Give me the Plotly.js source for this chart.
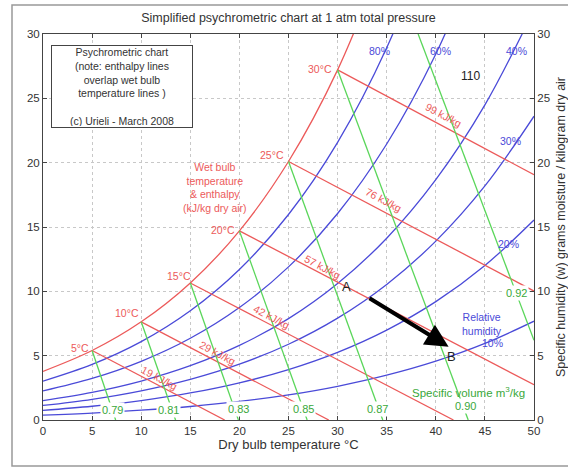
<!DOCTYPE html>
<html><head><meta charset="utf-8">
<script src="https://cdn.plot.ly/plotly-3.0.1.min.js"></script>
<style>html,body{margin:0;padding:0;background:#fff}#chart{width:568px;height:470px}</style>
</head><body><div id="chart"></div>
<script>
// Dry bulb temperatures (°C) at which curves were read
const dryBulb = [0,5,10,15,20,25,30,35,40,45,50];
// Specific humidity (g/kg) read for each relative-humidity curve
const rh100 = [3.78,5.40,7.63,10.65,14.70,20.09,27.21,36.58];
const rh80  = [3.02,4.32,6.09,8.49,11.70,15.97,21.58,28.93,38.5];
const rh60  = [2.26,3.23,4.56,6.35,8.74,11.90,16.05,21.45,28.44,37.47];
const rh40  = [1.51,2.15,3.03,4.22,5.80,7.88,10.61,14.13,18.68,24.49,31.88];
const rh30  = [1.13,1.61,2.27,3.16,4.34,5.89,7.92,10.54,13.90,18.19,23.61];
const rh20  = [0.75,1.07,1.51,2.10,2.89,3.92,5.26,6.99,9.20,12.01,15.54];
const rh10  = [0.38,0.54,0.76,1.05,1.44,1.95,2.62,3.48,4.57,5.95,7.68];

// Wet bulb / enthalpy lines: start (on saturation) and end points
const wetBulbLabels = ['5°C','10°C','15°C','20°C','25°C','30°C'];
const enthLabels = ['19 kJ/kg','29 kJ/kg','42 kJ/kg','57 kJ/kg','76 kJ/kg','99 kJ/kg'];
const enthStartT = [5,10,15,20,25,30];
const enthStartW = [5.40,7.63,10.65,14.70,20.09,27.21];
const enthEndT   = [18.5,29.1,41.8,50,50,50];
const enthEndW   = [0,0,0,2.74,10.02,19.06];

// Specific volume lines
const volLabels = ['0.79','0.81','0.83','0.85','0.87','0.90','0.92'];
const volStartT = [5,10,15,20,25,30,38.2];
const volStartW = [5.40,7.63,10.65,14.70,20.09,27.21,30];
const volEndT   = [7.4,13.5,19.9,26.9,34.6,43.3,50];
const volEndW   = [0,0,0,0,0,0,6.2];

// Process A -> B
const pointA = [33.1, 9.53];
const pointB = [41.3, 5.7];

const BLUE='#4a4ad8', RED='#ec5a5a', GREEN='#5ad65a';
const traces = [];
[rh10,rh20,rh30,rh40,rh60,rh80].forEach(arr=>{
  traces.push({x:dryBulb.slice(0,arr.length), y:arr, mode:'lines', line:{color:BLUE,width:1.3,shape:'spline'}, hoverinfo:'skip', showlegend:false});
});
traces.push({x:dryBulb.slice(0,rh100.length), y:rh100, mode:'lines', line:{color:RED,width:1.3,shape:'spline'}, hoverinfo:'skip', showlegend:false});
for(let i=0;i<enthStartT.length;i++){
  traces.push({x:[enthStartT[i],enthEndT[i]], y:[enthStartW[i],enthEndW[i]], mode:'lines', line:{color:RED,width:1.3}, hoverinfo:'skip', showlegend:false});
}
for(let i=0;i<volStartT.length;i++){
  traces.push({x:[volStartT[i],volEndT[i]], y:[volStartW[i],volEndW[i]], mode:'lines', line:{color:GREEN,width:1.3}, hoverinfo:'skip', showlegend:false});
}
traces.push({x:[0,50], y:[0,30], yaxis:'y2', mode:'markers', marker:{opacity:0}, hoverinfo:'skip', showlegend:false});

const F='Arial, Liberation Sans, sans-serif';
const ann = [];
function t(x,y,text,color,size,extra){ann.push(Object.assign({x:x,y:y,xref:'x',yref:'y',text:text,showarrow:false,font:{family:F,size:size,color:color}},extra||{}));}

// info box
t(8.05,25.95,'Psychrometric chart<br>(note: enthalpy lines<br>overlap wet bulb<br>temperature lines )<br> <br>(c) Urieli - March 2008','#333',10.5,{bordercolor:'#444',borderwidth:1,bgcolor:'#fff',width:138,height:79,align:'center'});
// wet bulb text
t(17.5,18.06,'Wet bulb<br>temperature<br>&amp; enthalpy<br>(kJ/kg dry air)',RED,10.5,{align:'center'});
// wet bulb temperature labels
const wbPos = [[3.8,5.6],[8.6,8.3],[13.8,11.2],[18.3,14.8],[23.3,20.6],[28.2,27.3]];
wbPos.forEach((p,i)=>t(p[0],p[1],wetBulbLabels[i],RED,10.5));
// enthalpy labels
const enPos = [[11.9,3.3],[17.8,5.2],[23.3,8.0],[28.5,11.9],[34.7,17.1],[40.8,23.7]];
enPos.forEach((p,i)=>t(p[0],p[1],enthLabels[i],RED,10.5,{textangle:28}));
// RH labels
t(34.3,28.7,'80%',BLUE,10.5); t(40.5,28.7,'60%',BLUE,10.5); t(48.2,28.7,'40%',BLUE,10.5);
t(47.6,21.7,'30%',BLUE,10.5); t(47.4,13.7,'20%',BLUE,10.5);
t(44.7,7.45,'Relative<br>humidity',BLUE,10.5,{align:'center'}); t(45.8,5.95,'10%',BLUE,10.5);
// volume labels
const volPos = [[7.1,0.8],[12.8,0.8],[19.9,0.85],[26.5,0.85],[34.1,0.85],[43.0,1.05],[48.2,9.84]];
volPos.forEach((p,i)=>t(p[0],p[1],volLabels[i],'#3aa83a',11,{bgcolor:'#fff'}));
t(43.3,2.2,'Specific volume m<sup>3</sup>/kg','#3aa83a',11.5);
t(43.5,26.7,'110','#222',12);
t(30.86,10.4,'A','#222',13); t(41.55,4.96,'B','#222',13);
// arrow
ann.push({x:pointB[0],y:pointB[1],ax:pointA[0],ay:pointA[1],xref:'x',yref:'y',axref:'x',ayref:'y',showarrow:true,arrowhead:2,arrowwidth:4,arrowsize:1.15,arrowcolor:'#000',text:''});

const axisCommon = {showline:true, linecolor:'#444', linewidth:1, mirror:'ticks', ticks:'inside', ticklen:4, tickcolor:'#444',
  showgrid:true, gridcolor:'#c8c8c8', griddash:'dot', gridwidth:1, zeroline:false, tickfont:{family:F,size:11.5,color:'#333'}};

const layout = {
  width:568, height:470, paper_bgcolor:'#fff', plot_bgcolor:'#fff',
  margin:{l:43,r:34,t:34,b:50},
  showlegend:false,
  title:{text:'Simplified psychrometric chart at 1 atm total pressure', font:{family:F,size:12.5,color:'#333'}, x:0.5, xref:'paper', y:1-18/470, yref:'container', yanchor:'middle'},
  xaxis:Object.assign({}, axisCommon, {range:[0,50], tick0:0, dtick:5, title:{text:'Dry bulb temperature °C', font:{family:F,size:13,color:'#333'}, standoff:4}}),
  yaxis:Object.assign({}, axisCommon, {range:[0,30], tick0:0, dtick:5}),
  yaxis2:{overlaying:'y', side:'right', range:[0,30], tick0:0, dtick:5, ticks:'inside', ticklen:4, tickcolor:'#444', showgrid:false, zeroline:false, showline:true, linecolor:'#444',
    tickfont:{family:F,size:11.5,color:'#333'}, title:{text:'Specific humidity (w) grams moisture / kilogram dry air', font:{family:F,size:12.5,color:'#333'}, standoff:8}},
  annotations:ann,
  shapes:[{type:'rect', xref:'paper', yref:'paper', x0:(12-43)/491, x1:(572-43)/491, y0:(420-466)/386, y1:(420-5)/386, line:{color:'#999',width:1.5}, fillcolor:'rgba(0,0,0,0)', layer:'below'}]
};
Plotly.newPlot('chart', traces, layout, {displayModeBar:false, staticPlot:true});
</script></body></html>
